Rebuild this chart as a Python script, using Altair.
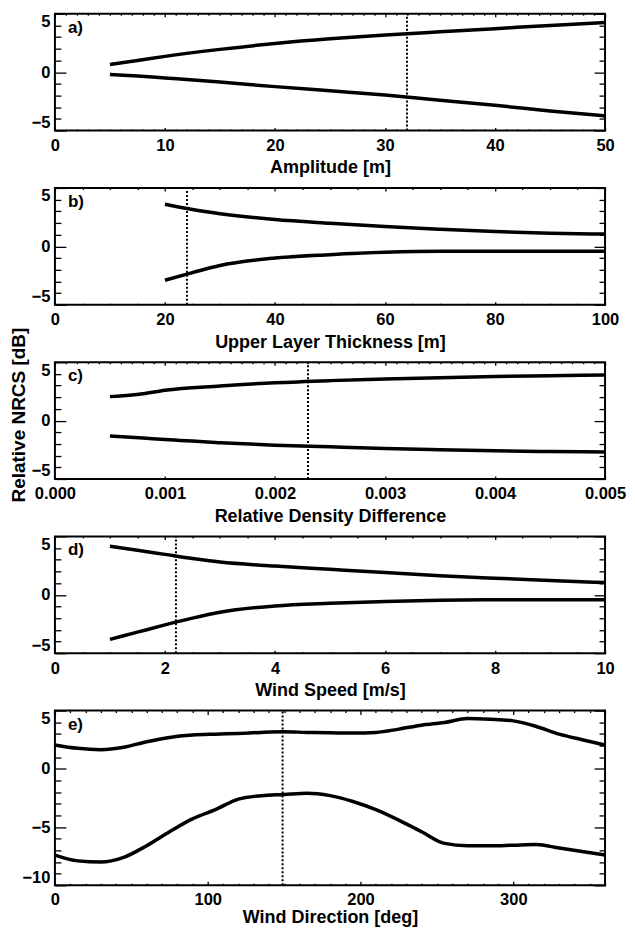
import altair as alt
import pandas as pd

# ---------------- data ----------------
# a) Amplitude [m]
amp_x = [5, 7.5, 10, 15, 20, 25, 30, 35, 40, 45, 50]
amp_hi = [0.66, 1.0, 1.35, 1.95, 2.45, 2.85, 3.17, 3.45, 3.72, 4.0, 4.25]
amp_lo = [-0.2, -0.33, -0.5, -0.85, -1.24, -1.6, -1.96, -2.4, -2.84, -3.32, -3.75]
amp_ref = 32

# b) Upper Layer Thickness [m]
thk_x = [20, 25, 30, 40, 50, 60, 70, 80, 90, 100]
thk_hi = [3.6, 3.15, 2.8, 2.3, 1.98, 1.7, 1.47, 1.27, 1.13, 1.05]
thk_lo = [-2.9, -2.25, -1.64, -1.0, -0.71, -0.51, -0.42, -0.42, -0.42, -0.42]
thk_ref = 24

# c) Relative Density Difference
den_x = [0.0005, 0.0008, 0.001, 0.0015, 0.002, 0.0025, 0.003, 0.0035, 0.004, 0.0045, 0.005]
den_hi = [2.05, 2.3, 2.6, 2.96, 3.24, 3.42, 3.55, 3.67, 3.77, 3.84, 3.9]
den_lo = [-1.32, -1.5, -1.63, -1.89, -2.11, -2.25, -2.39, -2.5, -2.59, -2.65, -2.68]
den_ref = 0.0023

# d) Wind Speed [m/s]
ws_x = [1, 1.5, 2, 2.5, 3, 4, 5, 6, 7, 8, 9, 10]
ws_hi = [4.16, 3.82, 3.46, 3.1, 2.8, 2.46, 2.18, 1.9, 1.64, 1.42, 1.22, 1.05]
ws_lo = [-3.82, -3.2, -2.58, -2.0, -1.5, -0.95, -0.72, -0.57, -0.46, -0.42, -0.42, -0.42]
ws_ref = 2.2

# e) Wind Direction [deg]
wd_x = [0, 15, 30, 45, 60, 75, 90, 105, 120, 135, 150, 165, 180, 195, 210, 225,
        240, 255, 270, 285, 300, 315, 330, 345, 360]
wd_hi = [2.05, 1.76, 1.65, 1.85, 2.33, 2.7, 2.9, 2.98, 3.04, 3.13, 3.18, 3.13, 3.1,
         3.07, 3.13, 3.41, 3.75, 3.98, 4.32, 4.26, 4.12, 3.64, 2.98, 2.5, 2.05]
wd_lo = [-7.4, -7.9, -8.0, -7.6, -6.6, -5.4, -4.3, -3.5, -2.6, -2.3, -2.2, -2.1, -2.3,
         -2.8, -3.5, -4.4, -5.4, -6.4, -6.6, -6.6, -6.55, -6.5, -6.8, -7.1, -7.4]
wd_ref = 149

# ---------------- styling ----------------
FONT = "Liberation Sans"
W = 551
H = 117
HE = 175
GAP = 57.5
LINE_W = 3.5


def ticks(lo, hi, step):
    n = int(round((hi - lo) / step))
    return [round(lo + i * step, 7) for i in range(n + 1)]


def cond_size(major, big, small):
    return {
        "condition": {
            "test": f"abs(datum.value / {major} - round(datum.value / {major})) < 0.001",
            "value": big,
        },
        "value": small,
    }


def panel(xv, hi, lo, ref, tag, xtitle, xdom, xmajor, xminor, fmt, ydom, h,
          xt=(3, 1.5), ytitle=None, lpad=7, tpad=5):
    up = pd.DataFrame({"x": xv, "y": hi})
    dn = pd.DataFrame({"x": xv, "y": lo})
    rl = pd.DataFrame({"x": [ref], "y0": [ydom[0]], "y1": [ydom[1]]})
    tg = pd.DataFrame({"t": [tag]})

    xsc = alt.Scale(domain=xdom, nice=False, zero=False)
    ysc = alt.Scale(domain=ydom, nice=False, zero=False)
    xmaj = ticks(xdom[0], xdom[1], xmajor)
    xall = ticks(xdom[0], xdom[1], xminor)
    ymaj = ticks(ydom[0], ydom[1], 5)
    yall = ticks(ydom[0], ydom[1], 1)

    tick_kw = dict(labels=False, domain=False, grid=False, title=None,
                   tickColor="black", tickWidth=1.3)
    x_in_bottom = alt.Axis(orient="top", offset=-h, values=xall,
                           tickSize=cond_size(xmajor, *xt), **tick_kw)
    x_in_top = alt.Axis(orient="bottom", offset=-h, values=xall,
                        tickSize=cond_size(xmajor, *xt), **tick_kw)
    y_in_left = alt.Axis(orient="right", offset=-W, values=yall,
                         tickSize=cond_size(5, 11, 6), **tick_kw)
    y_in_right = alt.Axis(orient="left", offset=-W, values=yall,
                          tickSize=cond_size(5, 11, 6), **tick_kw)

    x_lab = alt.Axis(orient="bottom", values=xmaj, ticks=False, domain=False,
                     grid=False, title=xtitle, format=fmt, labelFlush=False,
                     labelOverlap=False, labelPadding=lpad, titlePadding=tpad)
    ykw = dict(orient="left", values=ymaj, ticks=False, domain=False, grid=False,
               format="d", labelFlush=True, labelOverlap=False, labelPadding=5)
    if ytitle:
        y_lab = alt.Axis(title=ytitle, titlePadding=3, titleFontSize=19,
                         titleY=h / 2 - 6, **ykw)
    else:
        y_lab = alt.Axis(title=None, **ykw)

    line_kw = dict(color="black", strokeWidth=LINE_W, interpolate="monotone",
                   clip=True)
    l1 = alt.Chart(up).mark_line(**line_kw).encode(
        x=alt.X("x:Q", scale=xsc, axis=x_lab),
        y=alt.Y("y:Q", scale=ysc, axis=y_lab),
    )
    l2 = alt.Chart(dn).mark_line(**line_kw).encode(
        x=alt.X("x:Q", scale=xsc, axis=x_in_bottom),
        y=alt.Y("y:Q", scale=ysc, axis=y_in_left),
    )
    l3 = alt.Chart(rl).mark_rule(color="black", strokeWidth=2,
                                 strokeDash=[2, 2]).encode(
        x=alt.X("x:Q", scale=xsc, axis=x_in_top),
        y=alt.Y("y0:Q", scale=ysc, axis=y_in_right),
        y2="y1",
    )
    l4 = alt.Chart(tg).mark_text(align="left", baseline="top", font=FONT,
                                 fontSize=17, fontWeight="bold",
                                 color="black").encode(
        text="t:N",
        x=alt.value(13),
        y=alt.value(6),
    )
    return (alt.layer(l1, l2, l3, l4)
            .resolve_axis(x="independent", y="independent")
            .properties(width=W, height=h))


pa = panel(amp_x, amp_hi, amp_lo, amp_ref, "a)", "Amplitude [m]",
           [0, 50], 10, 1, "d", [-5, 5], H)
pb = panel(thk_x, thk_hi, thk_lo, thk_ref, "b)", "Upper Layer Thickness [m]",
           [0, 100], 20, 5, "d", [-5, 5], H)
pc = panel(den_x, den_hi, den_lo, den_ref, "c)", "Relative Density Difference",
           [0, 0.005], 0.001, 0.0001, ".3f", [-5, 5], H,
           ytitle="Relative NRCS [dB]")
pd_ = panel(ws_x, ws_hi, ws_lo, ws_ref, "d)", "Wind Speed [m/s]",
            [0, 10], 2, 0.5, "d", [-5, 5], H)
pe = panel(wd_x, wd_hi, wd_lo, wd_ref, "e)", "Wind Direction [deg]",
           [0, 360], 100, 10, "d", [-10, 5], HE, xt=(4, 2), lpad=6, tpad=1)

chart = (
    alt.vconcat(pa, pb, pc, pd_, pe, spacing=GAP, bounds="flush")
    .properties(padding={"left": 0, "top": 3, "right": 0, "bottom": 0},
                background="white")
    .configure_view(stroke="black", strokeWidth=2)
    .configure_axis(labelFont=FONT, titleFont=FONT, labelFontSize=16.5,
                    titleFontSize=18, labelFontWeight="bold",
                    titleFontWeight="bold", labelColor="black",
                    titleColor="black")
)

chart.save("out.html", embed_options={"renderer": "svg", "actions": False})
